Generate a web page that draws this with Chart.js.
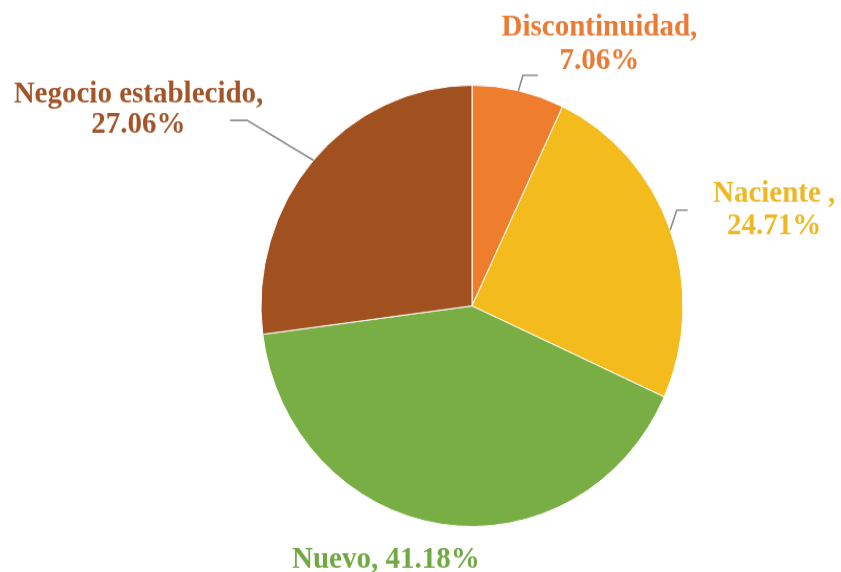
<!DOCTYPE html>
<html>
<head>
<meta charset="utf-8">
<script src="https://cdn.jsdelivr.net/npm/chart.js@4.4.1/dist/chart.umd.min.js"></script>
<style>
  html { overflow: hidden; }
  html, body { margin: 0; padding: 0; background: #fff; }
  body { width: 841px; height: 572px; }
  /* pie is drawn a little taller than wide, so the whole canvas is stretched */
  #wrap { width: 841px; height: 547px; transform: scaleY(1.0457); transform-origin: 0 0; }
</style>
</head>
<body>
<div id="wrap"><canvas id="pieChart"></canvas></div>
<script>
// Datos del gráfico
const categorias = ['Discontinuidad', 'Naciente ', 'Nuevo', 'Negocio establecido'];
const porcentajes = [7.06, 24.71, 41.18, 27.06];
const coloresSector = ['#EE7E2D', '#F3BC1C', '#78AE44', '#A0511F'];
const coloresTexto = ['#EB7A33', '#EDB823', '#70A843', '#A3552A'];

// posición de cada etiqueta respecto al borde del sector (punto medio del arco)
const etiquetas = [
  { dx: 81, dy: -53, gap: 32.5, split: true, leader: [[4.5, -14.6], [19.5, -14.6]] },
  { dx: 104, dy: -27, gap: 31.5, split: true, leader: [[6.6, -19], [17.6, -19]] },
  { dx: -55, dy: 42, gap: 0, split: false, leader: null },
  { dx: -175, dy: -55, gap: 28.7, split: true, leader: [[-66.3, -38.1], [-83.3, -38.1]] }
];

const labelPlugin = {
  id: 'pieLabels',
  afterDatasetsDraw(chart) {
    const ctx = chart.ctx;
    const meta = chart.getDatasetMeta(0);
    ctx.save();
    ctx.font = 'bold 29px "Liberation Serif", "Times New Roman", serif';
    ctx.textAlign = 'center';
    ctx.textBaseline = 'alphabetic';
    meta.data.forEach((arc, i) => {
      const p = arc.getProps(['x', 'y', 'startAngle', 'endAngle', 'outerRadius'], true);
      const mid = (p.startAngle + p.endAngle) / 2;
      const ex = p.x + Math.cos(mid) * p.outerRadius;
      const ey = p.y + Math.sin(mid) * p.outerRadius;
      const cfg = etiquetas[i];
      if (cfg.leader) {
        ctx.strokeStyle = '#8C8C8C';
        ctx.lineWidth = 1.6;
        ctx.beginPath();
        ctx.moveTo(ex, ey);
        cfg.leader.forEach(pt => ctx.lineTo(ex + pt[0], ey + pt[1]));
        ctx.stroke();
      }
      const valor = porcentajes[i].toFixed(2) + '%';
      ctx.fillStyle = coloresTexto[i];
      const tx = ex + cfg.dx, ty = ey + cfg.dy;
      if (cfg.split) {
        ctx.fillText(categorias[i] + ',', tx, ty);
        ctx.fillText(valor, tx, ty + cfg.gap);
      } else {
        ctx.fillText(categorias[i] + ', ' + valor, tx, ty);
      }
    });
    ctx.restore();
  }
};

new Chart(document.getElementById('pieChart').getContext('2d'), {
  type: 'pie',
  data: {
    labels: categorias,
    datasets: [{
      data: porcentajes,
      backgroundColor: coloresSector,
      borderColor: '#ffffff',
      borderWidth: 1
    }]
  },
  options: {
    responsive: true,
    maintainAspectRatio: false,
    animation: false,
    layout: { padding: { left: 103, right: 0, top: 81, bottom: 43 } },
    plugins: { legend: { display: false }, tooltip: { enabled: false } }
  },
  plugins: [labelPlugin]
});
</script>
</body>
</html>
